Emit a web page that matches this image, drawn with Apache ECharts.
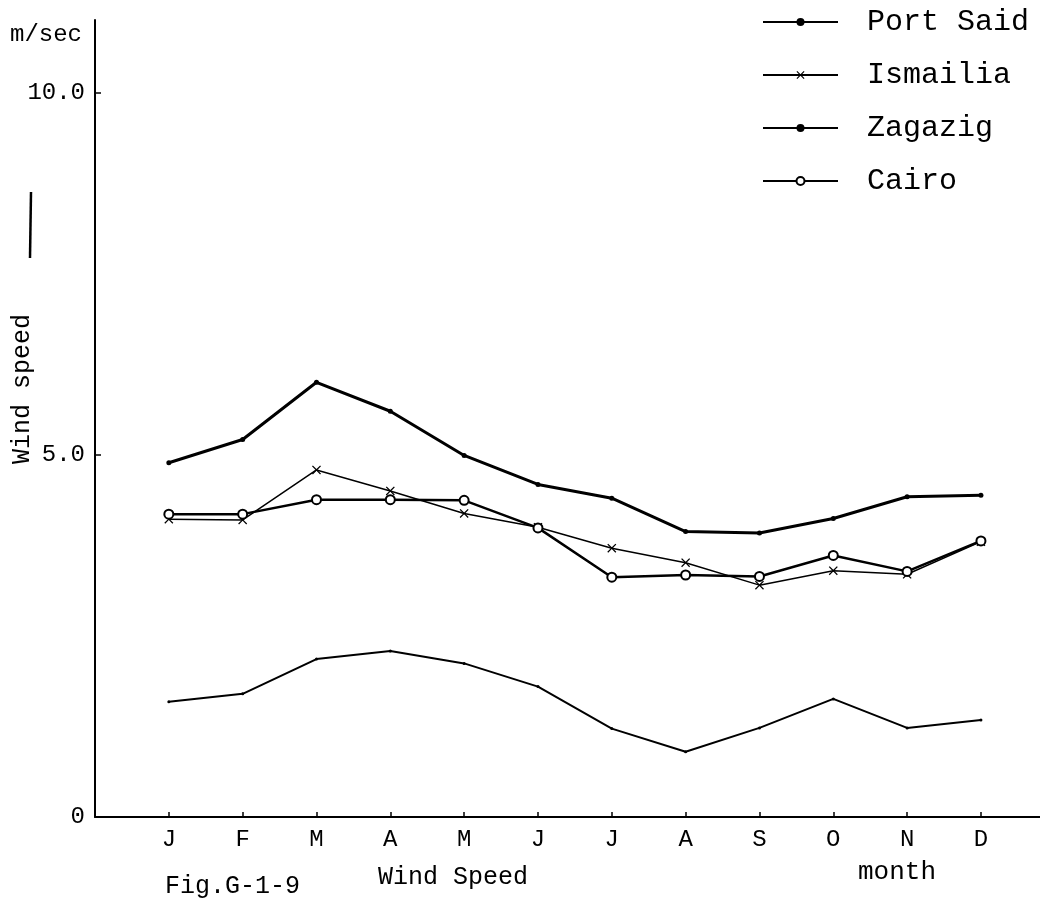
<!DOCTYPE html>
<html>
<head>
<meta charset="utf-8">
<script src="https://cdn.jsdelivr.net/npm/echarts@6/dist/echarts.min.js"></script>
<style>
html,body{margin:0;padding:0;background:#fff;}
#chart{width:1040px;height:898px;}
</style>
</head>
<body>
<div id="chart"></div>
<script>
const months = ['J','F','M','A','M','J','J','A','S','O','N','D'];
const monthPos = [1,2,3,4,5,6,7,8,9,10,11,12];
const yTicks = [0, 5, 10];
const portSaid = [4.89,5.21,6.00,5.60,4.99,4.59,4.40,3.94,3.92,4.12,4.42,4.44];
const ismailia = [4.11,4.10,4.79,4.50,4.19,4.00,3.71,3.51,3.20,3.40,3.35,3.80];
const zagazig  = [1.59,1.70,2.18,2.29,2.12,1.80,1.22,0.90,1.23,1.63,1.23,1.34];
const cairo    = [4.18,4.18,4.38,4.38,4.37,3.99,3.31,3.34,3.32,3.61,3.39,3.81];

const FONT = "'Liberation Mono','DejaVu Sans Mono',monospace";
const INK = '#000';
const toPts = arr => arr.map((v, i) => [monthPos[i], v]);
const xShape = 'path://M0,1L1,0L5,4L9,0L10,1L6,5L10,9L9,10L5,6L1,10L0,9L4,5Z';
const txt = size => size + "px 'Liberation Mono', 'DejaVu Sans Mono', monospace";

const chart = echarts.init(document.getElementById('chart'), null, {renderer: 'canvas'});
chart.setOption({
  backgroundColor: '#fff',
  animation: false,
  grid: {left: 95, right: 0, top: 20, bottom: 81, containLabel: false},
  xAxis: {
    type: 'value', min: 0, max: 12.8, interval: 1,
    splitLine: {show: false},
    axisLine: {lineStyle: {color: INK, width: 2}},
    axisTick: {inside: true, length: 5, customValues: monthPos, lineStyle: {color: INK, width: 1.5}},
    axisLabel: {
      customValues: monthPos, margin: 11, color: INK, fontFamily: FONT, fontSize: 24,
      formatter: v => months[Math.round(v) - 1] || ''
    }
  },
  yAxis: {
    type: 'value', min: 0, max: 11, interval: 5,
    splitLine: {show: false},
    axisLine: {lineStyle: {color: INK, width: 2}},
    axisTick: {inside: true, length: 6, customValues: [5, 10], lineStyle: {color: INK, width: 1.5}},
    axisLabel: {
      customValues: yTicks, margin: 10, color: INK, fontFamily: FONT, fontSize: 24,
      formatter: v => v === 0 ? '0' : v.toFixed(1)
    }
  },
  legend: {
    orient: 'vertical', left: 757, top: 2, itemWidth: 75, itemHeight: 10, itemGap: 23,
    textStyle: {fontFamily: FONT, fontSize: 30, color: INK, padding: [0, 0, 0, 24]},
    data: ['Port Said', 'Ismailia', 'Zagazig', 'Cairo']
  },
  series: [
    {name: 'Port Said', type: 'line', data: toPts(portSaid), symbol: 'circle', symbolSize: 5,
     lineStyle: {color: INK, width: 3}, itemStyle: {color: INK}},
    {name: 'Ismailia', type: 'line', data: toPts(ismailia), symbol: xShape, symbolSize: 9,
     lineStyle: {color: INK, width: 1.5}, itemStyle: {color: INK}},
    {name: 'Zagazig', type: 'line', data: toPts(zagazig), symbol: 'circle', symbolSize: 3,
     lineStyle: {color: INK, width: 2}, itemStyle: {color: INK}},
    {name: 'Cairo', type: 'line', data: toPts(cairo), symbol: 'emptyCircle', symbolSize: 9,
     lineStyle: {color: INK, width: 2.5}, itemStyle: {color: INK, borderColor: INK, borderWidth: 2}}
  ],
  graphic: [
    {type: 'text', left: 10, top: 23, style: {text: 'm/sec', font: txt(24), fill: INK}},
    {type: 'text', x: 22, y: 389, rotation: Math.PI / 2,
     style: {text: 'Wind speed', font: txt(25), fill: INK, align: 'center', verticalAlign: 'middle'}},
    {type: 'line', shape: {x1: 30, y1: 258, x2: 31, y2: 192}, style: {stroke: INK, lineWidth: 2.5}},
    {type: 'text', left: 858, top: 859, style: {text: 'month', font: txt(26), fill: INK}},
    {type: 'text', left: 165, top: 874, style: {text: 'Fig.G-1-9', font: txt(25), fill: INK}},
    {type: 'text', left: 378, top: 865, style: {text: 'Wind Speed', font: txt(25), fill: INK}}
  ]
});
</script>
</body>
</html>
